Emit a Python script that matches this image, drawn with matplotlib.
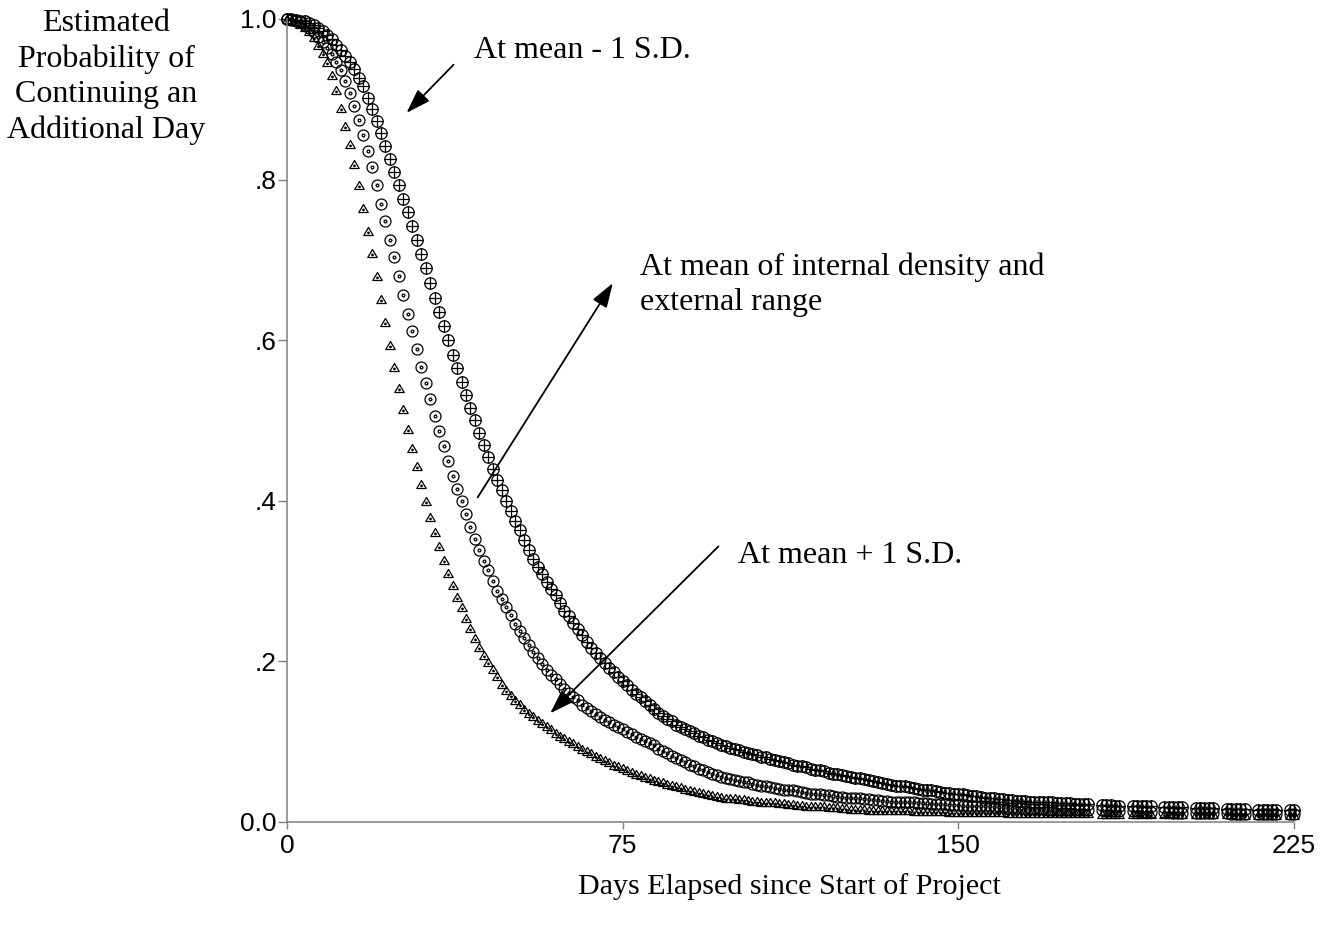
#!/usr/bin/env python3
"""
Estimated probability of a project continuing another day, for three
covariate profiles (mean - 1 S.D., mean, mean + 1 S.D.).
"""

import matplotlib
matplotlib.use("Agg")
import matplotlib.pyplot as plt
from matplotlib.path import Path
import numpy as np


# ---------------------------------------------------------------------------
# Data
# ---------------------------------------------------------------------------

# observed days: every day up to 179, then five-day blocks
days = list(range(0, 180)) + [
    182, 183, 184, 185, 186,
    189, 190, 191, 192, 193,
    196, 197, 198, 199, 200,
    203, 204, 205, 206, 207,
    210, 211, 212, 213, 214,
    217, 218, 219, 220, 221,
    224, 225,
]

# circle with plus  -> at mean - 1 S.D.
prob_minus_sd = [
    1.000, 1.000, 0.999, 0.998, 0.997, 0.995, 0.992, 0.989, 0.985, 0.980,
    0.975, 0.968, 0.961, 0.954, 0.946, 0.938, 0.927, 0.916, 0.902, 0.888,
    0.873, 0.858, 0.842, 0.826, 0.810, 0.793, 0.776, 0.759, 0.742, 0.725,
    0.707, 0.690, 0.671, 0.653, 0.635, 0.617, 0.600, 0.582, 0.565, 0.548,
    0.531, 0.515, 0.500, 0.484, 0.469, 0.454, 0.439, 0.426, 0.413, 0.399,
    0.387, 0.374, 0.363, 0.351, 0.338, 0.327, 0.317, 0.308, 0.299, 0.290,
    0.282, 0.272, 0.263, 0.256, 0.248, 0.240, 0.232, 0.224, 0.217, 0.210,
    0.204, 0.198, 0.192, 0.186, 0.180, 0.175, 0.170, 0.164, 0.159, 0.155,
    0.150, 0.145, 0.141, 0.136, 0.132, 0.128, 0.125, 0.121, 0.118, 0.115,
    0.113, 0.110, 0.107, 0.105, 0.102, 0.100, 0.098, 0.096, 0.094, 0.092,
    0.090, 0.089, 0.087, 0.086, 0.084, 0.083, 0.081, 0.080, 0.078, 0.077,
    0.075, 0.074, 0.073, 0.071, 0.070, 0.069, 0.068, 0.066, 0.065, 0.064,
    0.063, 0.061, 0.060, 0.059, 0.058, 0.057, 0.056, 0.055, 0.054, 0.053,
    0.052, 0.051, 0.049, 0.048, 0.047, 0.046, 0.045, 0.044, 0.044, 0.043,
    0.042, 0.041, 0.040, 0.039, 0.039, 0.038, 0.037, 0.036, 0.036, 0.035,
    0.034, 0.034, 0.033, 0.032, 0.032, 0.031, 0.030, 0.030, 0.029, 0.028,
    0.028, 0.027, 0.027, 0.026, 0.026, 0.026, 0.025, 0.025, 0.025, 0.024,
    0.024, 0.024, 0.023, 0.023, 0.023, 0.023, 0.022, 0.022, 0.022, 0.022,
    0.021, 0.021, 0.021, 0.020, 0.020,
    0.020, 0.019, 0.019, 0.019, 0.019,
    0.018, 0.018, 0.018, 0.018, 0.018,
    0.017, 0.017, 0.017, 0.017, 0.017,
    0.016, 0.016, 0.016, 0.016, 0.016,
    0.015, 0.015, 0.015, 0.015, 0.015,
    0.014, 0.014,
]

# circle with dot  -> at mean of internal density and external range
prob_mean = [
    1.000, 0.999, 0.998, 0.996, 0.993, 0.989, 0.984, 0.978, 0.971, 0.964,
    0.957, 0.947, 0.936, 0.923, 0.908, 0.891, 0.874, 0.855, 0.835, 0.815,
    0.793, 0.770, 0.748, 0.725, 0.703, 0.680, 0.656, 0.633, 0.611, 0.589,
    0.567, 0.546, 0.526, 0.506, 0.487, 0.468, 0.449, 0.431, 0.415, 0.399,
    0.383, 0.367, 0.352, 0.339, 0.325, 0.313, 0.300, 0.288, 0.277, 0.267,
    0.257, 0.246, 0.237, 0.229, 0.220, 0.212, 0.204, 0.196, 0.189, 0.183,
    0.178, 0.172, 0.165, 0.160, 0.155, 0.151, 0.146, 0.142, 0.138, 0.134,
    0.130, 0.127, 0.124, 0.121, 0.118, 0.115, 0.112, 0.109, 0.106, 0.103,
    0.101, 0.098, 0.095, 0.091, 0.088, 0.085, 0.082, 0.079, 0.077, 0.074,
    0.071, 0.069, 0.066, 0.064, 0.062, 0.060, 0.058, 0.056, 0.055, 0.053,
    0.052, 0.051, 0.050, 0.049, 0.047, 0.046, 0.045, 0.044, 0.043, 0.042,
    0.041, 0.040, 0.040, 0.039, 0.038, 0.037, 0.036, 0.035, 0.035, 0.034,
    0.033, 0.033, 0.032, 0.031, 0.031, 0.030, 0.030, 0.029, 0.029, 0.028,
    0.028, 0.027, 0.027, 0.026, 0.026, 0.025, 0.025, 0.025, 0.024, 0.024,
    0.024, 0.023, 0.023, 0.023, 0.022, 0.022, 0.022, 0.022, 0.021, 0.021,
    0.021, 0.020, 0.020, 0.020, 0.019, 0.019, 0.019, 0.019, 0.018, 0.018,
    0.018, 0.017, 0.017, 0.017, 0.017, 0.016, 0.016, 0.016, 0.016, 0.016,
    0.015, 0.015, 0.015, 0.015, 0.015, 0.015, 0.014, 0.014, 0.014, 0.014,
    0.014, 0.013, 0.013, 0.013, 0.013,
    0.013, 0.013, 0.012, 0.012, 0.012,
    0.012, 0.012, 0.011, 0.011, 0.011,
    0.011, 0.011, 0.011, 0.011, 0.011,
    0.011, 0.010, 0.010, 0.010, 0.010,
    0.010, 0.010, 0.010, 0.010, 0.010,
    0.010, 0.010,
]

# triangle with dot  -> at mean + 1 S.D.
prob_plus_sd = [
    1.000, 0.999, 0.997, 0.994, 0.990, 0.985, 0.977, 0.968, 0.958, 0.946,
    0.930, 0.911, 0.889, 0.867, 0.844, 0.819, 0.793, 0.765, 0.736, 0.708,
    0.680, 0.651, 0.622, 0.594, 0.567, 0.540, 0.514, 0.489, 0.465, 0.443,
    0.421, 0.400, 0.380, 0.361, 0.343, 0.326, 0.310, 0.295, 0.280, 0.267,
    0.254, 0.241, 0.229, 0.218, 0.208, 0.199, 0.190, 0.181, 0.172, 0.164,
    0.158, 0.152, 0.147, 0.141, 0.136, 0.132, 0.127, 0.123, 0.119, 0.115,
    0.111, 0.107, 0.104, 0.101, 0.098, 0.094, 0.091, 0.088, 0.085, 0.082,
    0.079, 0.077, 0.074, 0.071, 0.069, 0.067, 0.064, 0.062, 0.060, 0.058,
    0.056, 0.054, 0.052, 0.051, 0.049, 0.047, 0.046, 0.044, 0.043, 0.041,
    0.040, 0.038, 0.037, 0.036, 0.035, 0.033, 0.032, 0.031, 0.030, 0.030,
    0.029, 0.028, 0.028, 0.027, 0.026, 0.026, 0.025, 0.025, 0.024, 0.024,
    0.023, 0.023, 0.022, 0.022, 0.021, 0.021, 0.020, 0.020, 0.020, 0.019,
    0.019, 0.018, 0.018, 0.018, 0.017, 0.017, 0.016, 0.016, 0.016, 0.016,
    0.015, 0.015, 0.015, 0.015, 0.015, 0.014, 0.014, 0.014, 0.014, 0.014,
    0.013, 0.013, 0.013, 0.013, 0.013, 0.013, 0.013, 0.013, 0.012, 0.012,
    0.012, 0.012, 0.012, 0.012, 0.012, 0.012, 0.012, 0.012, 0.012, 0.012,
    0.012, 0.011, 0.011, 0.011, 0.011, 0.011, 0.011, 0.011, 0.011, 0.011,
    0.011, 0.011, 0.011, 0.011, 0.011, 0.011, 0.011, 0.011, 0.011, 0.011,
    0.010, 0.010, 0.010, 0.010, 0.010,
    0.010, 0.010, 0.010, 0.010, 0.010,
    0.010, 0.010, 0.009, 0.009, 0.009,
    0.009, 0.009, 0.009, 0.009, 0.009,
    0.009, 0.009, 0.008, 0.008, 0.008,
    0.008, 0.008, 0.008, 0.008, 0.008,
    0.008, 0.008,
]

x_ticks = [0, 75, 150, 225]
y_ticks = [0.0, 0.2, 0.4, 0.6, 0.8, 1.0]
y_tick_labels = ["0.0", ".2", ".4", ".6", ".8", "1.0"]


# ---------------------------------------------------------------------------
# Marker shapes (outline only, so overlapping symbols stay readable)
# ---------------------------------------------------------------------------

def circle_verts(cx, cy, r, n=40):
    t = np.linspace(0, 2 * np.pi, n)
    return np.column_stack([cx + r * np.cos(t), cy + r * np.sin(t)])


def compound(*parts):
    verts, codes = [], []
    for pts, closed in parts:
        verts.extend(pts)
        codes.extend([Path.MOVETO] + [Path.LINETO] * (len(pts) - 1))
        if closed:
            codes[-1] = Path.CLOSEPOLY
    return Path(np.array(verts, dtype=float), codes)


circle_plus = compound(
    (circle_verts(0, 0, 1.0), True),
    (np.array([[-1.0, 0.0], [1.0, 0.0]]), False),
    (np.array([[0.0, -1.0], [0.0, 1.0]]), False),
)
circle_dot = compound(
    (circle_verts(0, 0, 1.0), True),
    (circle_verts(0, 0, 0.26, 16), True),
)
triangle_dot = compound(
    (np.array([[0.0, 0.85], [-1.0, -0.85], [1.0, -0.85], [0.0, 0.85]]), True),
    (circle_verts(0, -0.3, 0.16, 12), True),
)


# ---------------------------------------------------------------------------
# Drawing
# ---------------------------------------------------------------------------

SERIF = "Liberation Serif"
SANS = "Liberation Sans"
AXIS_GREY = "#7f7f7f"

fig = plt.figure(figsize=(13.22, 9.32), dpi=100)
fig.patch.set_facecolor("white")
ax = fig.add_axes([287 / 1322, 110.3 / 932, 1007 / 1322, 802.7 / 932])

common = dict(linestyle="none", mfc="none", mec="black", mew=0.9, clip_on=False)
ax.plot(days, prob_plus_sd, marker=triangle_dot, ms=6.8, **common)
ax.plot(days, prob_mean, marker=circle_dot, ms=7.9, **common)
ax.plot(days, prob_minus_sd, marker=circle_plus, ms=8.2, **common)

ax.set_xlim(0, 225)
ax.set_ylim(0, 1.0)
ax.set_xticks(x_ticks)
ax.set_xticklabels([str(t) for t in x_ticks], fontfamily=SANS, fontsize=19)
ax.set_yticks(y_ticks)
ax.set_yticklabels(y_tick_labels, fontfamily=SANS, fontsize=19)
ax.tick_params(axis="y", direction="out", length=6.5, width=1.0,
               color=AXIS_GREY, pad=1.0)
ax.tick_params(axis="x", direction="out", length=5, width=1.0,
               color=AXIS_GREY, pad=4)

for side in ("top", "right"):
    ax.spines[side].set_visible(False)
for side in ("left", "bottom"):
    ax.spines[side].set_color(AXIS_GREY)
    ax.spines[side].set_linewidth(1.1)

# axis titles, placed like the original (y title sits above-left, unrotated).
# multi-line text with va="baseline" is anchored on its last line.
fig.text(106 / 1322, 1 - 138 / 932,
         "Estimated\nProbability of\nContinuing an\nAdditional Day",
         ha="center", va="baseline", family=SERIF, fontsize=23,
         linespacing=1.28)
fig.text(789 / 1322, 1 - 894 / 932, "Days Elapsed since Start of Project",
         ha="center", va="baseline", family=SERIF, fontsize=21.6)

# --- call-outs ---
arrow_kw = dict(arrowstyle="-|>,head_length=0.75,head_width=0.25",
                mutation_scale=20, color="black", lw=1.3,
                shrinkA=0, shrinkB=0)

ax.text(41.8, 0.952, "At mean - 1 S.D.", family=SERIF, fontsize=23,
        ha="left", va="baseline")
ax.annotate("", xy=(26.7, 0.883), xytext=(37.2, 0.943),
            arrowprops=arrow_kw, annotation_clip=False)

ax.text(78.9, 0.6375, "At mean of internal density and\nexternal range",
        family=SERIF, fontsize=23, ha="left", va="baseline",
        linespacing=1.28)
ax.annotate("", xy=(72.8, 0.671), xytext=(42.6, 0.404),
            arrowprops=arrow_kw, annotation_clip=False)

ax.text(100.7, 0.322, "At mean + 1 S.D.", family=SERIF, fontsize=23,
        ha="left", va="baseline")
ax.annotate("", xy=(58.8, 0.135), xytext=(96.4, 0.343),
            arrowprops=arrow_kw, annotation_clip=False)

fig.savefig("out.png", dpi=100, facecolor="white")
plt.close(fig)
